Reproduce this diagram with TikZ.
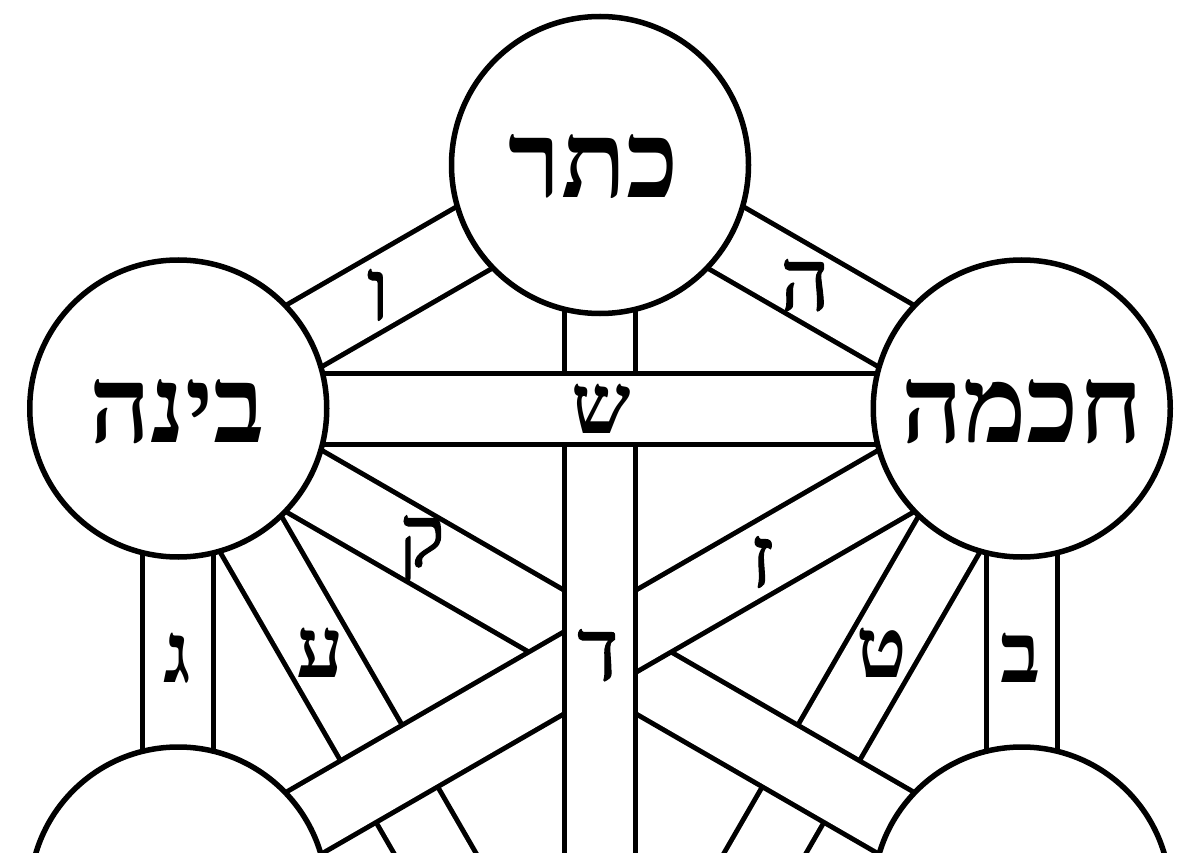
\documentclass[tikz,border=0pt]{standalone}
\usepackage{fontspec}
\TeXXeTstate=1
\newfontfamily\hebfont[Script=Hebrew]{Liberation Serif}
\newfontfamily\hebmed[Script=Hebrew,FakeBold=1.2]{Liberation Serif}
\newcommand\pathband[2]{%
  \draw[bandout] (#1) -- (#2);
  \draw[bandin] (#1) -- (#2);}
\begin{document}
\begin{tikzpicture}[x=1pt,y=-1pt,
  bandout/.style={line width=76pt, black},
  bandin/.style={line width=66pt, white},
  sefira/.style={circle, draw=black, line width=5.5pt, fill=white,
    minimum size=297pt, inner sep=0pt},
  smallheb/.style={font=\hebmed\fontsize{86}{86}\selectfont, anchor=base, inner sep=0pt},
  boldheb/.style={font=\hebfont\bfseries\fontsize{84}{84}\selectfont, anchor=base, inner sep=0pt},
  bigheb/.style={font=\hebfont\bfseries\fontsize{107}{107}\selectfont, anchor=base, inner sep=0pt}]
\useasboundingbox (0,0) rectangle (1200,853);
\fill[white] (0,0) rectangle (1200,853);
\clip (0,0) rectangle (1200,853);
% centres of the sefirot
\coordinate (keter)    at (600,165);
\coordinate (binah)    at (178.25,408.5);
\coordinate (chokhmah) at (1021.75,408.5);
\coordinate (gevurah)  at (178.25,895.5);
\coordinate (chesed)   at (1021.75,895.5);
\coordinate (tiferet)  at (600,1139);
% paths, lowest first
\pathband{binah}{tiferet}
\pathband{chokhmah}{tiferet}
\pathband{binah}{chesed}
\pathband{chokhmah}{gevurah}
\pathband{keter}{tiferet}
\pathband{binah}{chokhmah}
\pathband{binah}{keter}
\pathband{chokhmah}{keter}
\pathband{binah}{gevurah}
\pathband{chokhmah}{chesed}
% sefirot
\node[sefira] (keter-c)    at (keter) {};
\node[sefira] (binah-c)    at (binah) {};
\node[sefira] (chokhmah-c) at (chokhmah) {};
\node[sefira] (gevurah-c)  at (gevurah) {};
\node[sefira] (chesed-c)   at (chesed) {};
\node[bigheb] (keter-t)    at (594,198)  {\beginR כתר\endR};
\node[bigheb] (binah-t)    at (177,442)  {\beginR בינה\endR};
\node[bigheb] (chokhmah-t) at (1022,442) {\beginR חכמה\endR};
% letters of the paths
\node[smallheb] (l-vav)   at (378,320) {ו};
\node[smallheb] (l-he)    at (805,310) {ה};
\node[boldheb]  (l-shin)  at (601,433) {ש};
\node[smallheb] (l-dalet) at (598,680) {ד};
\node[smallheb] (l-qof)   at (422,566) {ק};
\node[smallheb] (l-zayin) at (762,587) {ז};
\node[boldheb]  (l-ayin)  at (320,677) {ע};
\node[boldheb]  (l-tet)   at (882,677) {ט};
\node[boldheb]  (l-gimel) at (177,682) {ג};
\node[boldheb]  (l-bet)   at (1021,682) {ב};
\end{tikzpicture}
\end{document}
